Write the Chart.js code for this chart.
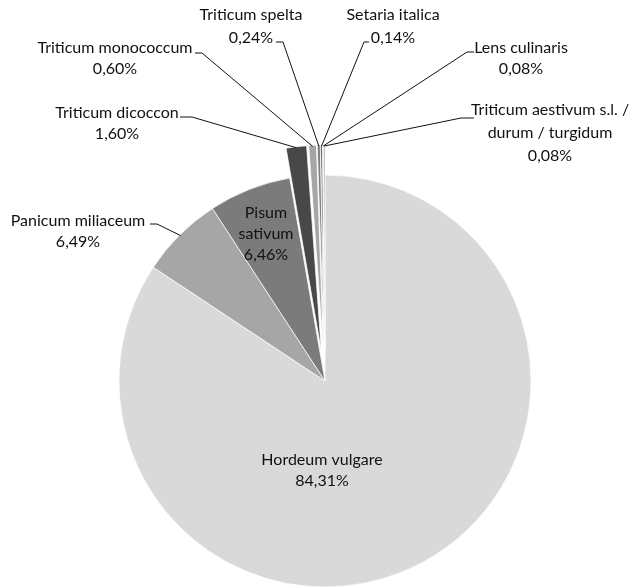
<!DOCTYPE html>
<html><head><meta charset="utf-8">
<script src="https://cdn.jsdelivr.net/npm/chart.js@4"></script>
<style>html,body{margin:0;padding:0;background:#fff}#wrap{width:634px;height:588px;position:relative}</style>
</head><body><div id="wrap"><canvas id="c" width="634" height="588"></canvas></div>
<script>
// ---- data ----
const categories = ["Hordeum vulgare","Panicum miliaceum","Pisum sativum","Triticum dicoccon","Triticum monococcum","Triticum spelta","Setaria italica","Lens culinaris","Triticum aestivum s.l. / durum / turgidum"];
const percentValues = [84.31, 6.49, 6.46, 1.60, 0.60, 0.24, 0.14, 0.08, 0.08];
const percentLabels = ["84,31%","6,49%","6,46%","1,60%","0,60%","0,24%","0,14%","0,08%","0,08%"];
const labelTextLines = [
  ["Hordeum vulgare","84,31%"],
  ["Panicum miliaceum","6,49%"],
  ["Pisum","sativum","6,46%"],
  ["Triticum dicoccon","1,60%"],
  ["Triticum monococcum","0,60%"],
  ["Triticum spelta","0,24%"],
  ["Setaria italica","0,14%"],
  ["Lens culinaris","0,08%"],
  ["Triticum aestivum s.l. /","durum / turgidum","0,08%"]
];

// ---- styles / layout ----
const sliceColors = ["#d9d9d9","#a6a6a6","#7b7b7b","#484848","#a6a6a6","#7f7f7f","#404040","#bfbfbf","#595959"];
const sliceExplode = [0,0,0,30,30,30,30,30,30];   // pixels each slice is pulled out
const sliceBorder = 0.75;
// label box: cx = center x of text, y = first line middle, step = line spacing, dash = [x1,y,x2] horizontal tick before leader
const labelLayout = [
  {cx:322, y:460, step:21},
  {cx:78,  y:221, step:21, dash:[150,224,157]},
  {cx:266, y:213, step:21},
  {cx:117, y:113, step:21, dash:[180,117,192]},
  {cx:115, y:48,  step:21, dash:[195,53,202]},
  {cx:251, y:15,  step:23, dash:[276,42,283]},
  {cx:393, y:15,  step:23, dash:[369,42,364]},
  {cx:521, y:48,  step:21, dash:[474,52,467]},
  {cx:550, y:110, step:23, dash:[474,118,461]}
];
const FONT = '16px Lato';

// draw the library's own arc elements, pulled out along their mid angle
const explodePlugin = {
  id: 'explode',
  beforeDatasetDraw(chart, args) {
    const ctx = chart.ctx;
    const meta = args.meta;
    meta.data.forEach((arc, i) => {
      const d = sliceExplode[i] || 0;
      const mid = (arc.startAngle + arc.endAngle) / 2;
      ctx.save();
      ctx.translate(Math.cos(mid) * d, Math.sin(mid) * d);
      arc.draw(ctx, chart.chartArea);
      ctx.restore();
    });
    return false;
  }
};

const labelPlugin = {
  id: 'pieLabels',
  afterDatasetsDraw(chart) {
    const ctx = chart.ctx;
    const meta = chart.getDatasetMeta(0);
    ctx.save();
    ctx.font = FONT;
    ctx.fillStyle = '#111';
    ctx.textAlign = 'center';
    ctx.textBaseline = 'middle';
    meta.data.forEach((arc, i) => {
      const L = labelLayout[i];
      labelTextLines[i].forEach((t, k) => ctx.fillText(t, L.cx, L.y + k * L.step));
      if (L.dash) {
        const mid = (arc.startAngle + arc.endAngle) / 2;
        const r = arc.outerRadius + (sliceExplode[i] || 0) - 1;
        const ex = arc.x + Math.cos(mid) * r;
        const ey = arc.y + Math.sin(mid) * r;
        ctx.beginPath();
        ctx.strokeStyle = '#111';
        ctx.lineWidth = 1;
        ctx.moveTo(L.dash[0], L.dash[1]);
        ctx.lineTo(L.dash[2], L.dash[1]);
        ctx.lineTo(ex, ey);
        ctx.stroke();
      }
    });
    ctx.restore();
  }
};

new Chart(document.getElementById('c'), {
  type: 'pie',
  data: {
    labels: categories,
    datasets: [{
      data: percentValues,
      backgroundColor: sliceColors,
      borderColor: '#ffffff',
      borderWidth: sliceBorder,
      clip: false
    }]
  },
  options: {
    responsive: false,
    animation: false,
    radius: 206,
    layout: {padding: {left: 16, right: 0, top: 174, bottom: 0}},
    plugins: {legend: {display: false}, tooltip: {enabled: false}}
  },
  plugins: [explodePlugin, labelPlugin]
});
</script>
</body></html>
